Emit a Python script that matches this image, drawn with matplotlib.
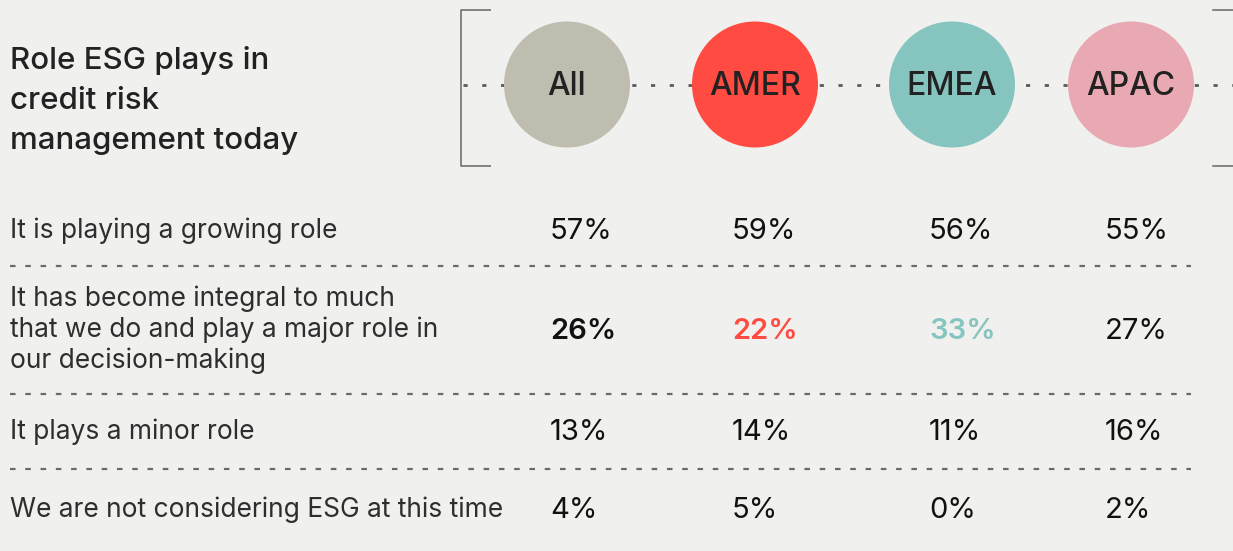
import matplotlib
matplotlib.use("Agg")
import matplotlib.pyplot as plt
from matplotlib.patches import Circle

plt.rcParams['font.family'] = ['Inter', 'DejaVu Sans']
plt.rcParams['lines.scale_dashes'] = False

# ---- data ----
title_lines = ["Role ESG plays in", "credit risk", "management today"]
regions = ["All", "AMER", "EMEA", "APAC"]
region_colors = ["#bebdb0", "#ff4b42", "#86c5bf", "#e8a9b3"]
statements = [
    "It is playing a growing role",
    "It has become integral to much\nthat we do and play a major role in\nour decision-making",
    "It plays a minor role",
    "We are not considering ESG at this time",
]
values_all = [57, 26, 13, 4]
values_amer = [59, 22, 14, 5]
values_emea = [56, 33, 11, 0]
values_apac = [55, 27, 16, 2]
highlight_row = 1
highlight_regions = ["All", "AMER", "EMEA"]
highlight_colors = {"All": "#111111", "AMER": "#ff4b42", "EMEA": "#86c5bf"}

values = [values_all, values_amer, values_emea, values_apac]

# ---- layout ----
W, H = 1233, 551
BG = "#f0f0ee"
fig = plt.figure(figsize=(W / 100, H / 100), dpi=100, facecolor=BG)
ax = fig.add_axes([0, 0, 1, 1])
ax.set_xlim(0, W)
ax.set_ylim(H, 0)
ax.set_facecolor(BG)
ax.axis("off")

circle_x = [567, 755, 952, 1131]
circle_y = 84.5
radius = 63
value_x = [550, 732, 929, 1105]
row_baselines = [239, 339, 440, 518]
label_baselines = [238, 306, 439, 517]
sep_y = [266, 394, 469]

grey = "#5a5a5a"
# bracket
ax.plot([491, 461, 461, 491], [10, 10, 166, 166], color="#666666", lw=1.1, solid_capstyle="butt")
ax.plot([1213, 1233], [10, 10], color="#666666", lw=1.1)
ax.plot([1213, 1233], [166, 166], color="#666666", lw=1.1)
# dotted line through circles
ax.plot([463, 1233], [circle_y, circle_y], color=grey, lw=2.0, dashes=(3.0, 10.5), zorder=1)

for cx, name, col in zip(circle_x, regions, region_colors):
    ax.add_patch(Circle((cx, circle_y), radius, color=col, zorder=2, lw=0))
    ax.text(cx, 95, name, ha="center", va="baseline", fontsize=23, color="#222222",
            fontweight="medium", zorder=3)

# title
for i, line in enumerate(title_lines):
    ax.text(10, 69 + 40 * i, line, ha="left", va="baseline", fontsize=22.5,
            fontweight="medium", color="#222222")

# statements
for i, s in enumerate(statements):
    for j, ln in enumerate(s.split("\n")):
        ax.text(10, label_baselines[i] + 31 * j, ln, ha="left", va="baseline",
                fontsize=19, fontweight="normal", color="#2e2e2e")

# values
for r in range(len(statements)):
    for c, name in enumerate(regions):
        v = values[c][r]
        if r == highlight_row and name in highlight_regions:
            col = highlight_colors[name]
            fw = "semibold"
        else:
            col = "#111111"
            fw = "normal"
        ax.text(value_x[c], row_baselines[r], f"{v}%", ha="left", va="baseline",
                fontsize=21, color=col, fontweight=fw)

# separators
for y in sep_y:
    ax.plot([10, 1191], [y, y], color="#6a6a6a", lw=1.6, dashes=(4.0, 7.0))

fig.savefig("out.png", dpi=100, facecolor=BG)
